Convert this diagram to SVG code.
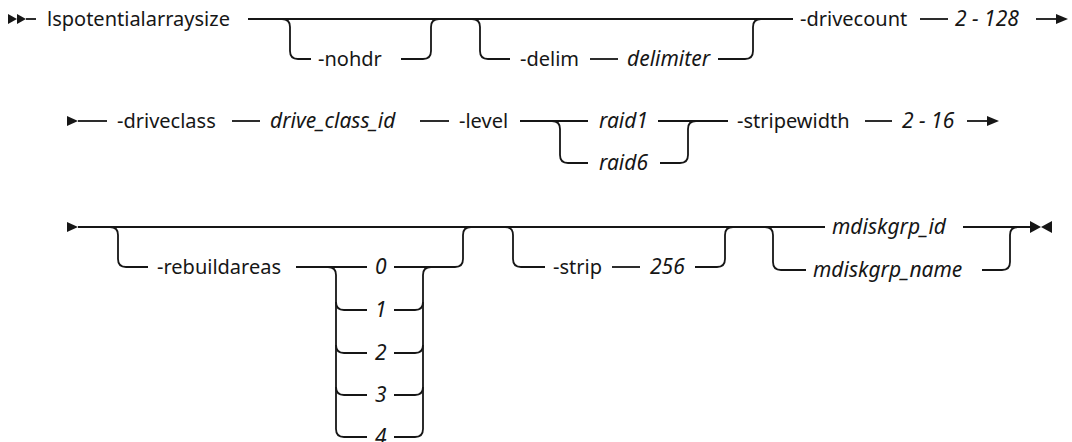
<svg xmlns="http://www.w3.org/2000/svg" width="1072" height="442" viewBox="0 0 1072 442">
<style>
.t{font-family:"Noto Sans","Liberation Sans",sans-serif;font-size:20px;fill:#161616}
.i{font-style:italic;font-size:21px}
.c{fill:none;stroke:#161616;stroke-width:1.8}
.m{fill:#161616;stroke:none}
</style>
<rect width="1072" height="442" fill="#ffffff"/>
<g id="connectors">
<polygon class="m" points="8,14 17,19 8,24"/>
<polygon class="m" points="17,14 26,19 17,24"/>
<path class="c" d="M26 19 H36"/>
<path class="c" d="M248 19 H793"/>
<path class="c" d="M282 19 Q290 19 290 27 V51 Q290 59 298 59 H311"/>
<path class="c" d="M401 59 H423 Q431 59 431 51 V27 Q431 19 439 19"/>
<path class="c" d="M472 19 Q480 19 480 27 V51 Q480 59 488 59 H510"/>
<path class="c" d="M590 59 H618"/>
<path class="c" d="M718 59 H745 Q753 59 753 51 V27 Q753 19 761 19"/>
<path class="c" d="M920 19 H948"/>
<path class="c" d="M1036 19 H1058"/>
<polygon class="m" points="1056,14 1068,19 1056,24"/>
<polygon class="m" points="67,116 78,121 67,126"/>
<path class="c" d="M78 121 H107"/>
<path class="c" d="M232 121 H260"/>
<path class="c" d="M420 121 H449"/>
<path class="c" d="M520 121 H588"/>
<path class="c" d="M552 121 Q560 121 560 129 V155 Q560 163 568 163 H588"/>
<path class="c" d="M658 121 H728"/>
<path class="c" d="M660 163 H680 Q688 163 688 155 V129 Q688 121 696 121"/>
<path class="c" d="M865 121 H892"/>
<path class="c" d="M967 121 H989"/>
<polygon class="m" points="987,116 999,121 987,126"/>
<polygon class="m" points="67,222 78,227 67,232"/>
<path class="c" d="M78 227 H825"/>
<path class="c" d="M110 227 Q118 227 118 235 V259 Q118 267 126 267 H148"/>
<path class="c" d="M296 267 H367"/>
<path class="c" d="M394 267 H455 Q463 267 463 259 V235 Q463 227 471 227"/>
<path class="c" d="M328 267 Q336 267 336 275 V429 Q336 437 344 437 H367"/>
<path class="c" d="M336 302 Q336 310 344 310 H367"/>
<path class="c" d="M336 345 Q336 353 344 353 H367"/>
<path class="c" d="M336 387 Q336 395 344 395 H367"/>
<path class="c" d="M394 310 H415 Q423 310 423 302"/>
<path class="c" d="M394 353 H415 Q423 353 423 345"/>
<path class="c" d="M394 395 H415 Q423 395 423 387"/>
<path class="c" d="M394 437 H415 Q423 437 423 429 V275 Q423 267 431 267"/>
<path class="c" d="M505 227 Q513 227 513 235 V259 Q513 267 521 267 H545"/>
<path class="c" d="M612 267 H640"/>
<path class="c" d="M695 267 H717 Q725 267 725 259 V235 Q725 227 733 227"/>
<path class="c" d="M765 227 Q773 227 773 235 V262 Q773 270 781 270 H806"/>
<path class="c" d="M963 227 H1032"/>
<path class="c" d="M982 270 H1002 Q1010 270 1010 262 V235 Q1010 227 1018 227"/>
<polygon class="m" points="1030,221 1041,227 1030,233"/>
<polygon class="m" points="1052,221 1041,227 1052,233"/>
</g>
<g id="n-cmd"><text class="t" x="47" y="26">lspotentialarraysize</text></g>
<g id="n-nohdr"><text class="t" x="318" y="66">-nohdr</text></g>
<g id="n-delim"><text class="t" x="520" y="66">-delim</text></g>
<g id="n-delimiter"><text class="t i" x="627" y="66">delimiter</text></g>
<g id="n-drivecount"><text class="t" x="800" y="26">-drivecount</text></g>
<g id="n-drivecount-val"><text class="t i" x="955" y="26">2 - 128</text></g>
<g id="n-driveclass"><text class="t" x="117" y="128">-driveclass</text></g>
<g id="n-drive-class-id"><text class="t i" x="270" y="128">drive_class_id</text></g>
<g id="n-level"><text class="t" x="459" y="128">-level</text></g>
<g id="n-raid1"><text class="t i" x="599" y="128">raid1</text></g>
<g id="n-raid6"><text class="t i" x="599" y="170">raid6</text></g>
<g id="n-stripewidth"><text class="t" x="737" y="128">-stripewidth</text></g>
<g id="n-stripewidth-val"><text class="t i" x="902" y="128">2 - 16</text></g>
<g id="n-rebuildareas"><text class="t" x="157" y="274">-rebuildareas</text></g>
<g id="n-r0"><text class="t i" x="375" y="274">0</text></g>
<g id="n-r1"><text class="t i" x="375" y="317">1</text></g>
<g id="n-r2"><text class="t i" x="375" y="360">2</text></g>
<g id="n-r3"><text class="t i" x="375" y="402">3</text></g>
<g id="n-r4"><text class="t i" x="375" y="444">4</text></g>
<g id="n-strip"><text class="t" x="553" y="274">-strip</text></g>
<g id="n-strip-val"><text class="t i" x="650" y="274">256</text></g>
<g id="n-mdiskgrp-id"><text class="t i" x="832" y="234">mdiskgrp_id</text></g>
<g id="n-mdiskgrp-name"><text class="t i" x="813" y="277">mdiskgrp_name</text></g>
</svg>
